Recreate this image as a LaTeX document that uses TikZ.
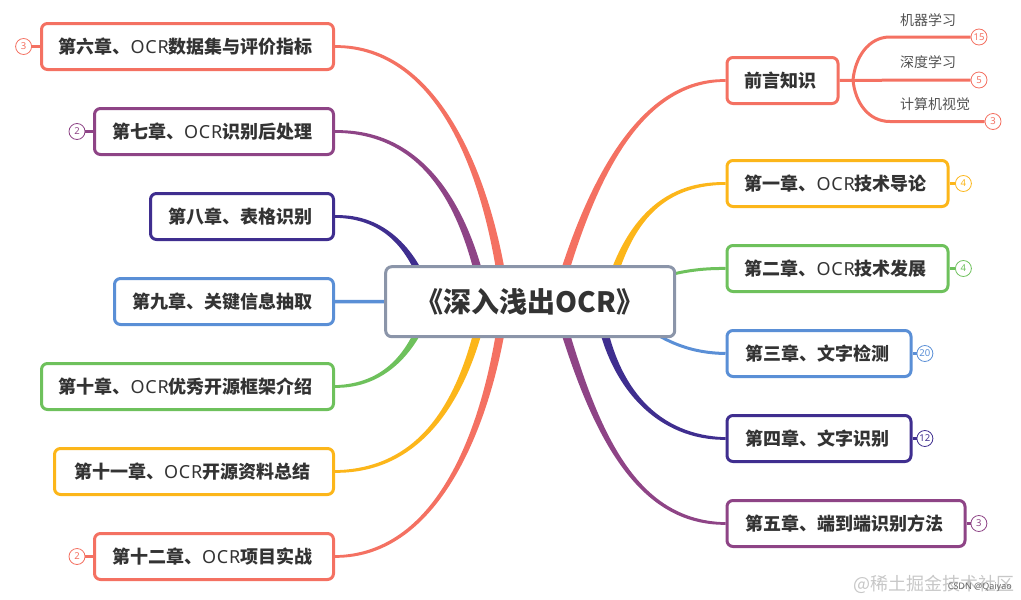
\documentclass[tikz,border=0pt]{standalone}
\usepackage{fontspec}
\setmainfont{Noto Sans CJK SC}
\newfontfamily\latinfont{Noto Sans}
\newfontfamily\ocrfont[LetterSpace=4]{Noto Sans}
\usetikzlibrary{positioning,calc,backgrounds}
\definecolor{cred}{HTML}{F47162}
\definecolor{cyellow}{HTML}{FCB61A}
\definecolor{cgreen}{HTML}{6EC15C}
\definecolor{cblue}{HTML}{5A8FD6}
\definecolor{cnavy}{HTML}{3F2E8F}
\definecolor{cpurple}{HTML}{8E4486}
\definecolor{cslate}{HTML}{8B95A9}
\definecolor{cink}{HTML}{333333}
\newcommand{\ocr}{{\ocrfont OCR}}
% tapered branch: colour, end half width, hub, two controls, box anchor
\newcommand{\branch}[6]{
 \fill[#1] ($(#3)+(-4.5,0)$) .. controls ($(#4)+(-4,0)$) and ($(#5)+(0,2*#2)$) .. ($(#6)+(0,#2)$)
 -- ($(#6)+(0,-#2)$) .. controls ($(#5)+(0,-2*#2)$) and ($(#4)+(4,0)$) .. ($(#3)+(4.5,0)$) -- cycle;
}

\begin{document}
\begin{tikzpicture}[x=1pt,y=-1pt,
 root/.style={draw=cslate,fill=white,line width=3pt,rounded corners=6pt,minimum width=289pt,minimum height=70pt,
 text=cink,font=\fontsize{28}{32}\selectfont\bfseries},
 topic/.style={draw=#1,fill=white,line width=3pt,rounded corners=6pt,minimum height=46pt,inner sep=0pt,
 text=cink,font=\fontsize{18}{22}\selectfont\bfseries,execute at end node=\hspace{3.5pt}},
 badge/.style={draw=#1,text=#1,fill=white,circle,line width=0.8pt,minimum size=16pt,inner sep=0pt,
 font=\latinfont\fontsize{9.5}{10}\selectfont},
 leaf/.style={text=cink!85,inner sep=0pt,anchor=west,font=\fontsize{14}{16}\selectfont},
 stub/.style={draw=#1,line width=3pt}]
 \useasboundingbox (0,0) rectangle (1021,600);

 \node[root] (book) at (530.2,301.7) {《深入浅出OCR》};

 % right column
 \node[topic=cred,minimum width=111pt,anchor=west] (intro) at (725.5,80.5) {前言知识};
 \node[topic=cyellow,minimum width=221pt,anchor=north west] (ch1) at (725.5,159) {第一章、\ocr 技术导论};
 \node[topic=cgreen,minimum width=221pt,below=36pt of ch1.south west,anchor=north west] (ch2) {第二章、\ocr 技术发展};
 \node[topic=cblue,minimum width=184pt,below=36pt of ch2.south west,anchor=north west] (ch3) {第三章、文字检测};
 \node[topic=cnavy,minimum width=184pt,below=36pt of ch3.south west,anchor=north west] (ch4) {第四章、文字识别};
 \node[topic=cpurple,minimum width=238pt,below=36pt of ch4.south west,anchor=north west] (ch5) {第五章、端到端识别方法};

 % left column
 \node[topic=cred,minimum width=292pt,anchor=north east] (ch6) at (335,22) {第六章、\ocr 数据集与评价指标};
 \node[topic=cpurple,minimum width=239pt,below=36pt of ch6.south east,anchor=north east] (ch7) {第七章、\ocr 识别后处理};
 \node[topic=cnavy,minimum width=183pt,below=36pt of ch7.south east,anchor=north east] (ch8) {第八章、表格识别};
 \node[topic=cblue,minimum width=219pt,below=36pt of ch8.south east,anchor=north east] (ch9) {第九章、关键信息抽取};
 \node[topic=cgreen,minimum width=292pt,below=36pt of ch9.south east,anchor=north east] (ch10) {第十章、\ocr 优秀开源框架介绍};
 \node[topic=cyellow,minimum width=279pt,below=36pt of ch10.south east,anchor=north east] (ch11) {第十一章、\ocr 开源资料总结};
 \node[topic=cred,minimum width=239pt,below=36pt of ch11.south east,anchor=north east] (ch12) {第十二章、\ocr 项目实战};

 % badges
 \node[badge=cyellow,right=5.5pt of ch1] (b1) {4};
 \node[badge=cgreen,right=5.5pt of ch2] (b2) {4};
 \node[badge=cblue,right=4pt of ch3] (b3) {20};
 \node[badge=cnavy,right=4pt of ch4] (b4) {12};
 \node[badge=cpurple,right=4pt of ch5] (b5) {3};
 \node[badge=cred,left=8pt of ch6] (b6) {3};
 \node[badge=cpurple,left=7.6pt of ch7] (b7) {2};
 \node[badge=cred,left=7.6pt of ch12] (b12) {2};

 % sub topics of the first box
 \coordinate (fork) at (853,80);
 \node[badge=cred] (m1) at (979,37) {15};
 \node[badge=cred] (m2) at (979,80) {5};
 \node[badge=cred] (m3) at (993,121.5) {3};
 \node[leaf] (ml) at (900,20) {机器学习};
 \node[leaf] (dl) at (900,62) {深度学习};
 \node[leaf] (cv) at (900,104) {计算机视觉};

 % hubs behind the root box
 \coordinate (hubA) at (505,301);
 \coordinate (hubB) at (485,301);
 \coordinate (hubC) at (430,301);
 \coordinate (hubD) at (556,301);
 \coordinate (hubE) at (606,301);
 \coordinate (hubF) at (630,290);
 \coordinate (hubG) at (630,315);
 \coordinate (hubH) at (598,301);

 \begin{scope}[on background layer]
 \branch{cred}{1.3}{hubA}{490,180}{440,46}{ch6.east}
 \branch{cpurple}{1.3}{hubB}{465,200}{420,131}{ch7.east}
 \branch{cnavy}{1.3}{hubC}{415,250}{385,216}{ch8.east}
 \draw[stub=cblue,line width=3.5pt] (book) -- (ch9);
 \branch{cgreen}{-1.3}{hubC}{415,352}{385,386}{ch10.east}
 \branch{cyellow}{-1.3}{hubB}{465,402}{420,471}{ch11.east}
 \branch{cred}{-1.3}{hubA}{490,422}{440,556}{ch12.east}

 \branch{cred}{-1.3}{hubD}{590,180}{640,80}{intro.west}
 \branch{cyellow}{-1.3}{hubE}{625,225}{660,183}{ch1.west}
 \draw[stub=cgreen] (hubF) .. controls (660,275) and (690,268) .. (ch2.west);
 \draw[stub=cblue] (hubG) .. controls (665,345) and (695,353) .. (ch3.west);
 \branch{cnavy}{1.3}{hubH}{610,390}{660,438}{ch4.west}
 \branch{cpurple}{1.3}{hubD}{590,420}{630,523}{ch5.west}
 \end{scope}

 \draw[stub=cred] (intro) -- (m2);
 \draw[stub=cred] (fork) .. controls (855,58) and (868,37) .. (890,37) -- (m1);
 \draw[stub=cred] (fork) .. controls (855,102) and (868,121.5) .. (890,121.5) -- (m3);
 \draw[stub=cyellow] (ch1) -- (b1);
 \draw[stub=cgreen] (ch2) -- (b2);
 \draw[stub=cblue] (ch3) -- (b3);
 \draw[stub=cnavy] (ch4) -- (b4);
 \draw[stub=cpurple] (ch5) -- (b5);
 \draw[stub=cred] (ch6) -- (b6);
 \draw[stub=cpurple] (ch7) -- (b7);
 \draw[stub=cred] (ch12) -- (b12);

 % watermark
 \node[text=black!22,anchor=east,inner sep=0pt,font=\fontsize{18}{20}\selectfont] (mark) at (1015,584) {@稀土掘金技术社区};
 \node[text=black!60,anchor=east,inner sep=0pt,font=\latinfont\fontsize{9}{10}\selectfont] (csdn) at (1012,587) {CSDN @Qaiyao};
\end{tikzpicture}
\end{document}
